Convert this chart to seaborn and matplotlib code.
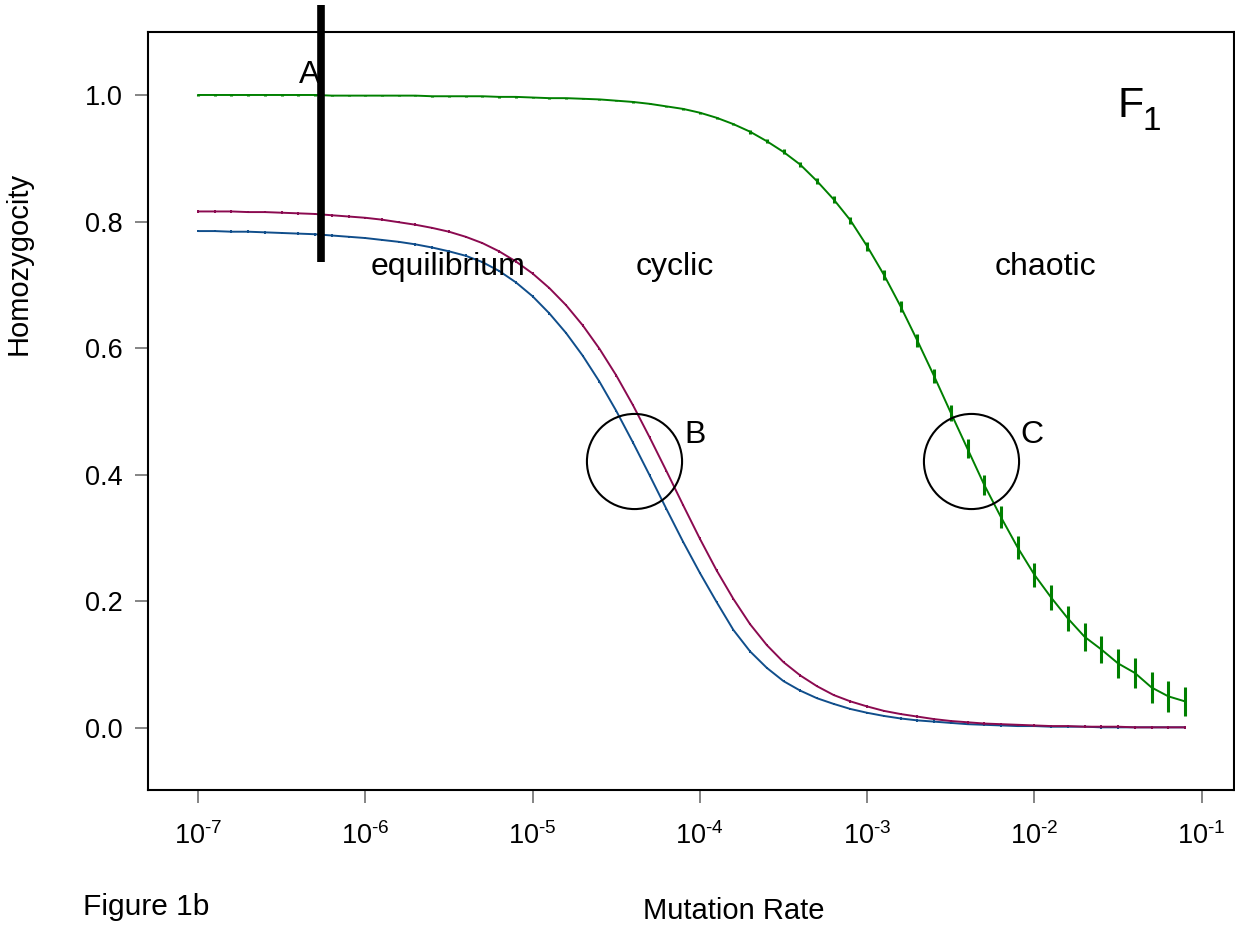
import numpy as np
import pandas as pd
import matplotlib
matplotlib.use("Agg")
import matplotlib.pyplot as plt
from matplotlib.ticker import NullLocator, FixedLocator
import seaborn as sns

# ---------------- data ----------------
log_rate = np.round(np.arange(-70, -10) / 10.0, 1)   # 10 points per decade, 1e-7 .. 10^-1.1
mutation_rate = 10.0 ** log_rate

green_vals = [1.000, 1.000, 1.000, 1.000, 1.000, 1.000, 1.000, 1.000, 0.999, 0.999,
              0.999, 0.999, 0.999, 0.999, 0.998, 0.998, 0.998, 0.998, 0.997, 0.997,
              0.996, 0.995, 0.995, 0.994, 0.993, 0.991, 0.989, 0.986, 0.982, 0.978,
              0.972, 0.964, 0.954, 0.942, 0.927, 0.910, 0.890, 0.864, 0.835, 0.802,
              0.761, 0.716, 0.666, 0.612, 0.556, 0.498, 0.441, 0.384, 0.333, 0.285,
              0.242, 0.206, 0.173, 0.144, 0.124, 0.102, 0.087, 0.064, 0.050, 0.042]
green_err = [0.001] * 30 + [0.0015, 0.002, 0.002, 0.003, 0.003, 0.004, 0.004, 0.005, 0.005, 0.006,
                            0.007, 0.008, 0.009, 0.010, 0.011, 0.013, 0.015, 0.016, 0.017, 0.018,
                            0.019, 0.020, 0.020, 0.022, 0.022, 0.023, 0.024, 0.024, 0.024, 0.023]

red_vals = [0.816, 0.816, 0.816, 0.815, 0.815, 0.814, 0.813, 0.812, 0.810, 0.808,
            0.806, 0.803, 0.799, 0.795, 0.790, 0.784, 0.776, 0.766, 0.753, 0.737,
            0.718, 0.695, 0.668, 0.636, 0.599, 0.557, 0.510, 0.459, 0.406, 0.352,
            0.299, 0.249, 0.204, 0.164, 0.131, 0.104, 0.083, 0.066, 0.052, 0.042,
            0.034, 0.027, 0.022, 0.018, 0.014, 0.011, 0.009, 0.007, 0.006, 0.005,
            0.004, 0.003, 0.003, 0.002, 0.002, 0.002, 0.001, 0.001, 0.001, 0.001]
red_err = [0.002] * 60

blue_vals = [0.785, 0.785, 0.784, 0.784, 0.783, 0.782, 0.781, 0.780, 0.778, 0.776,
             0.774, 0.771, 0.768, 0.764, 0.759, 0.753, 0.746, 0.736, 0.722, 0.704,
             0.682, 0.655, 0.624, 0.588, 0.547, 0.501, 0.451, 0.399, 0.346, 0.294,
             0.245, 0.199, 0.155, 0.121, 0.095, 0.074, 0.059, 0.047, 0.038, 0.030,
             0.024, 0.019, 0.015, 0.012, 0.010, 0.008, 0.006, 0.005, 0.004, 0.003,
             0.003, 0.002, 0.002, 0.002, 0.001, 0.001, 0.001, 0.001, 0.001, 0.001]
blue_err = [0.002] * 60

series_names = ["blue", "red", "green"]
series_colors = {"blue": "#104E8B", "red": "#8B0A50", "green": "#008000"}
series_errwidth = {"blue": 1.4, "red": 1.4, "green": 2.2}

x_tick_values = [1e-7, 1e-6, 1e-5, 1e-4, 1e-3, 1e-2, 1e-1]
x_tick_labels = [r"$\mathregular{10^{\text{-}7}}$", r"$\mathregular{10^{\text{-}6}}$",
                 r"$\mathregular{10^{\text{-}5}}$", r"$\mathregular{10^{\text{-}4}}$",
                 r"$\mathregular{10^{\text{-}3}}$", r"$\mathregular{10^{\text{-}2}}$",
                 r"$\mathregular{10^{\text{-}1}}$"]
y_tick_values = [0.0, 0.2, 0.4, 0.6, 0.8, 1.0]
y_tick_labels = ["0.0", "0.2", "0.4", "0.6", "0.8", "1.0"]

region_labels = ["equilibrium", "cyclic", "chaotic"]
region_x = [3.12e-6, 7.1e-5, 1.17e-2]
region_y = [0.716, 0.716, 0.716]

point_labels = ["A", "B", "C"]
point_label_x = [10 ** -6.396, 10 ** -4.095, 10 ** -2.087]
point_label_y = [1.019, 0.450, 0.450]

circle_x = [10 ** -4.394, 10 ** -2.380]
circle_y = [0.422, 0.422]

bar_x = 10 ** -6.265
bar_y = [0.736, 1.142]

# ---------------- style ----------------
sns.set_style("white")
plt.rcParams["font.family"] = ["Liberation Sans", "DejaVu Sans"]
plt.rcParams["mathtext.fontset"] = "custom"
plt.rcParams["mathtext.rm"] = "Liberation Sans"
plt.rcParams["mathtext.it"] = "Liberation Sans:italic"
plt.rcParams["mathtext.bf"] = "Liberation Sans:bold"
plt.rcParams["text.color"] = "black"
plt.rcParams["axes.labelcolor"] = "black"
plt.rcParams["xtick.color"] = "black"
plt.rcParams["ytick.color"] = "black"

df = pd.concat([
    pd.DataFrame({"rate": mutation_rate, "value": blue_vals, "err": blue_err, "series": "blue"}),
    pd.DataFrame({"rate": mutation_rate, "value": red_vals, "err": red_err, "series": "red"}),
    pd.DataFrame({"rate": mutation_rate, "value": green_vals, "err": green_err, "series": "green"}),
], ignore_index=True)

W, H = 1235, 932
fig = plt.figure(figsize=(W / 100, H / 100), dpi=100)
ax = fig.add_axes([148 / W, 1 - 790 / H, (1234 - 148) / W, (790 - 32) / H])
ax.set_xscale("log")

sns.lineplot(data=df, x="rate", y="value", hue="series", hue_order=series_names,
             palette=series_colors, estimator=None, errorbar=None, legend=False,
             linewidth=1.4, ax=ax)

for name in series_names:
    sub = df[df["series"] == name]
    ax.errorbar(sub["rate"], sub["value"], yerr=sub["err"], fmt="none",
                ecolor=series_colors[name], elinewidth=series_errwidth[name], capsize=0)

ax.set_xlim(10 ** -7.299, 10 ** -0.807)
ax.set_ylim(-0.098, 1.0995)

ax.xaxis.set_major_locator(FixedLocator(x_tick_values))
ax.xaxis.set_minor_locator(NullLocator())
ax.set_xticklabels(x_tick_labels)
ax.set_yticks(y_tick_values)
ax.set_yticklabels(y_tick_labels)

ax.tick_params(axis="both", which="major", bottom=True, left=True, direction="out",
               length=9.4, width=1.2, color="#707070", labelsize=19.5, labelcolor="black")
ax.tick_params(axis="y", pad=9.0)
ax.tick_params(axis="x", pad=14)

for sp in ax.spines.values():
    sp.set_color("black")
    sp.set_linewidth(1.5)

ax.set_xlabel("Mutation Rate", fontsize=21, color="black")
ax.set_ylabel("Homozygocity", fontsize=21, color="black")
ax.xaxis.label.set_va("baseline")
ax.xaxis.set_label_coords((734 - 148) / 1086, (790 - 919) / 758)
ax.yaxis.set_label_coords((33 - 148) / 1086, (790 - 263) / 758)

for lab, x, y in zip(region_labels, region_x, region_y):
    ax.text(x, y, lab, ha="center", va="baseline", fontsize=23, color="black")

for lab, x, y in zip(point_labels, point_label_x, point_label_y):
    ax.text(x, y, lab, ha="left", va="baseline", fontsize=23, color="black")

ax.plot(circle_x, circle_y, linestyle="none", marker="o", markersize=68.5,
        markerfacecolor="none", markeredgecolor="black", markeredgewidth=1.5)

ax.plot([bar_x, bar_x], bar_y, color="black", linewidth=5.5, solid_capstyle="butt",
        clip_on=False, zorder=5)

ax.text(10 ** -1.501, 0.965, "F", ha="left", va="baseline", fontsize=31, color="black")
ax.text(10 ** -1.351, 0.945, "1", ha="left", va="baseline", fontsize=24, color="black")

fig.text(83 / W, 1 - 915 / H, "Figure 1b", ha="left", va="baseline", fontsize=21.5,
         color="black")

fig.savefig("out.png", dpi=100)
